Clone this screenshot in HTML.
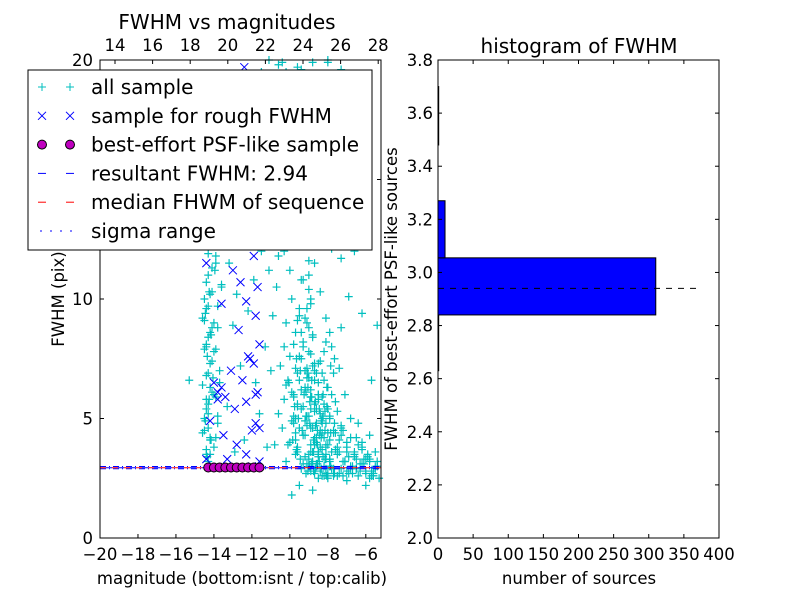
<!DOCTYPE html>
<html><head><meta charset="utf-8"><style>
body{margin:0;background:#fff}
svg text{font-family:"DejaVu Sans","Liberation Sans",sans-serif;fill:#000}
</style></head><body>
<svg id="c" width="800" height="600" viewBox="0 0 800 600" xmlns="http://www.w3.org/2000/svg"></svg>
<script>
const allMag=[-14.4,-14.2,-14.5,-14.3,-14.1,-14.4,-14.2,-14.5,-14.3,-14.0,-14.4,-14.1,-14.3,-13.9,-14.2,-13.8,-13.9,-13.7,-14.0,-13.8,-14.6,-14.6,-14.0,-13.6,-14.5,-13.7,-14.1,-14.4,-14.3,-14.6,
-13.2,-12.8,-12.5,-13.0,-12.2,-12.6,-11.9,-11.5,-11.3,-11.8,-13.3,-12.4,-11.6,-11.2,-13.4,-12.1,-11.4,-11.1,-12.9,-11.0,-11.7,-10.9,-15.3,-11.5,-12.4,-13.0,
-10.2,-10.0,-9.8,-9.6,-9.4,-9.2,-9.0,-8.8,-9.5,-9.9,-10.3,-10.1,-9.7,-9.3,-9.1,-8.9,-8.7,-8.5,-8.3,-8.1,-7.9,-7.7,-7.5,-8.6,-8.4,-9.0,-8.8,-8.6,-8.2,-8.0,-7.8,-7.6,-7.4,-7.2,-7.0,-6.8,-6.6,-6.4,-6.2,-6.0,-5.8,-5.6,-5.4,-9.6,-9.4,-9.2,-10.4,-10.6,-10.8,-9.8,-9.5,-9.3,-9.1,-8.9,-9.7,-10.0,-9.4,-9.8,-9.2,-8.7,-8.4,-8.1,-7.8,-7.4,-7.1,-6.8,-6.5,-6.2,-5.8,-5.5,-7.3,-6.9,-8.3,-9.6,-8.9,-10.1,-7.6,-8.5,-9.0,-7.2,-6.6,-6.2,-5.7,-5.4,-10.5,-10.7,-8.0,-7.0,-6.0,-9.5,-9.9,-8.8,-5.3,-8.2,-8.7,-9.1,-8.5,-7.9,-7.3,-7.7,-8.9,-9.7,-10.3,-10.5,-10.2,-9.0,-8.0,-7.0,-6.3,-10.9,-9.4,-8.0,-6.9,-10.5,
-9.0,-8.7,-8.4,-8.2,-8.9,-8.6,-8.3,-8.8,-8.5,-9.2,-7.9,-8.1,-7.5,-7.0,-6.5,-6.0,-5.6,-9.3,-8.0,-7.7,
-8.6,-8.5,-8.4,-8.7,-8.8,-8.3,-8.6,-8.5,-8.9,-8.2,-8.7,-8.4,-8.6,-8.3,-8.8,-8.5,-8.6,-8.4,-8.7,-8.5,
-9.1,-9.0,-8.9,-9.2,-9.1,-9.0,-9.3,-8.9,-9.2,-9.0,-9.1,-9.4,-9.3,-8.8,-9.0,-9.2,-9.1,-8.9,-9.0,-9.3,
-8.0,-7.9,-8.1,-7.8,-8.0,-8.2,-7.7,-8.1,-7.9,-8.0,-7.6,-7.8,-8.2,-7.7,-7.9,-8.1,-7.5,-7.4,-7.6,-7.3,
-7.2,-7.0,-6.8,-7.1,-6.9,-6.7,-6.5,-6.3,-6.1,-5.9,-5.7,-5.5,-5.4,-6.6,-6.4,-7.3,-6.2,-5.8,-6.0,-5.6,
-9.6,-9.7,-9.5,-9.8,-9.6,-9.9,-9.5,-9.7,-10.0,-9.8,-9.4,-9.6,-9.5,-10.1,-9.7,-9.9,-9.4,-9.8,-10.2,-9.6,
-14.3,-14.4,-14.2,-14.5,-14.3,-14.4,-14.2,-14.3,-14.1,-14.4,-14.2,-14.5,-14.3,-14.2,-14.4,-14.1,-14.3,-14.0,-14.2,-14.4,
-13.9,-13.8,-14.0,-13.7,-13.9,-14.1,-13.8,-13.6,-13.9,-14.0,
-10.6,-10.3,-10.0,-9.7,-9.3,-9.0,-8.6,-8.2,-7.8,-7.3,-10.8,-10.4,-10.1,-9.5,-9.1,-8.7,-8.3,-7.9,-7.4,-7.0,
-10.9,-10.6,-10.2,-9.8,-9.4,-9.0,-8.6,-8.1,-7.7,-7.2,-11.1,-10.4,-9.6,-8.8,-8.0,-7.3,-6.6,-9.9,-9.2,-8.4,
-8.75,-8.55,-8.35,-8.15,-8.95,-9.15,-8.45,-8.65,-8.25,-8.05,-8.85,-9.05,-7.85,-7.65,-8.5,-8.3,-8.7,-8.9,-8.1,-7.9,
-8.75,-8.55,-8.35,-8.15,-8.95,-9.15,-8.45,-8.65,-8.25,-8.05,-8.85,-9.05,-7.85,-7.65,-8.5,-8.3,-8.7,-8.9,-8.1,-7.9,
-8.75,-8.55,-8.35,-8.15,-8.95,-9.15,-8.45,-8.65,-8.25,-8.05,-8.85,-9.05,-7.85,-7.65,-8.5,-8.3,-8.7,-8.9,-8.1,-7.9,
-7.5,-7.3,-7.1,-6.9,-6.7,-6.5,-6.3,-6.1,-5.9,-5.7,-5.5,-7.4,-7.0,-6.6,-6.2,-5.8,-5.4,-7.2,-6.8,-6.4,
-9.45,-9.65,-9.85,-9.35,-9.55,-9.75,-9.25,-10.05,-9.45,-9.65,-14.35,-14.15,-14.45,-14.25,-14.05,-14.35,-14.15,-14.45,-14.25,-13.95];
const allFw=[3.5,4.2,5.0,5.6,6.1,6.8,7.3,7.9,8.4,9.0,9.6,10.3,11.0,11.8,12.5,4.8,5.9,6.5,7.8,8.8,9.2,4.4,3.8,10.5,10.0,12.3,13.0,8.1,4.6,6.4,
11.5,10.2,12.8,8.9,9.5,7.2,10.8,12.0,8.0,6.5,5.5,4.1,5.2,3.8,14.5,15.5,13.8,11.2,3.6,7.0,16.8,9.3,6.6,19.5,18.5,17.0,
3.2,4.0,4.8,5.5,6.2,7.0,7.8,8.5,9.3,10.0,8.0,6.6,3.5,4.3,5.1,5.9,6.6,7.3,4.8,3.9,3.3,4.4,5.3,3.1,2.8,3.0,3.6,4.2,5.6,6.3,2.9,3.7,2.7,3.2,4.0,2.9,3.4,2.6,3.1,2.8,3.3,2.7,3.0,3.8,2.9,3.4,4.6,5.2,3.9,6.0,7.6,8.2,9.0,9.8,8.6,11.2,10.8,12.3,12.9,11.5,10.3,9.2,8.0,7.1,6.0,5.0,4.2,3.8,4.3,3.6,8.8,10.1,13.8,14.5,15.6,16.4,15.0,17.5,18.7,19.2,12.0,9.4,6.6,8.9,13.0,10.5,2.5,2.4,2.2,2.2,1.8,2.0,2.5,7.8,5.3,6.7,6.0,5.0,4.6,6.9,4.6,5.0,5.8,7.2,9.0,11.0,12.5,14.0,16.5,17.8,19.6,19.9,19.4,19.0,
3.3,3.9,4.5,3.0,5.4,6.9,5.9,7.2,3.6,4.9,4.1,2.7,3.5,3.6,2.9,3.3,2.6,3.1,4.4,2.6,
3.0,3.4,3.8,4.2,4.6,5.0,5.4,5.8,6.2,6.6,7.0,7.4,4.0,4.4,3.2,3.6,4.8,5.2,5.6,6.0,
3.1,3.5,3.9,4.3,4.7,5.1,5.5,5.9,6.3,6.7,7.1,7.5,8.0,8.4,8.8,9.2,9.6,10.0,10.4,10.8,
2.7,3.0,3.3,3.6,3.9,4.2,4.5,4.8,5.1,5.4,5.7,6.0,2.6,2.9,3.2,3.5,3.8,4.1,4.4,4.7,
2.6,2.8,3.0,3.2,3.4,2.7,2.9,3.1,3.3,3.5,2.8,3.0,3.2,3.6,3.9,4.3,4.0,2.5,2.7,2.6,
3.6,4.1,4.6,5.1,5.6,6.1,6.6,7.1,7.6,8.1,8.6,9.1,9.6,3.9,4.4,4.9,5.4,5.9,6.4,6.9,
3.2,3.7,4.1,4.5,5.2,5.8,6.3,6.9,7.4,8.0,8.6,9.1,9.7,10.2,10.7,11.3,11.9,12.4,3.5,5.4,
4.2,5.1,6.0,7.0,7.9,8.8,9.7,10.6,11.5,12.2,
11.8,12.0,12.6,13.2,12.4,11.6,12.8,13.4,12.1,11.7,13.6,14.2,14.8,15.3,15.8,16.2,16.9,17.4,18.1,18.8,
19.2,19.8,19.5,19.1,18.6,18.2,17.8,17.2,16.6,16.0,20.0,19.9,19.7,19.9,20.0,19.6,19.3,15.0,14.0,13.0,
2.8,3.1,2.9,3.3,3.0,2.7,3.2,2.9,3.4,2.6,3.1,2.8,3.0,2.7,3.5,3.7,3.9,3.6,3.8,3.3,
4.1,4.5,4.9,5.3,5.7,6.1,4.3,4.7,5.1,5.5,5.9,6.3,4.4,4.8,6.5,6.9,7.3,7.7,8.2,8.6,
3.6,3.9,4.2,4.5,4.8,5.1,5.4,5.7,6.0,6.3,6.6,6.9,7.2,7.5,2.5,2.6,2.7,2.8,2.9,3.0,
2.6,2.9,3.2,2.7,3.0,3.3,2.8,3.1,3.4,2.6,2.9,3.6,3.8,3.5,3.7,3.2,3.0,4.5,4.2,4.8,
3.3,3.7,4.1,4.5,5.0,5.5,6.0,6.5,7.0,7.5,3.4,4.1,4.9,5.8,6.7,7.6,8.5,9.4,10.3,11.2];
const roughMag=[-14.4,-13.7,-13.0,-12.6,-11.9,-11.7,-12.3,-11.8,-13.6,-12.7,-11.6,-12.2,-11.9,-13.1,-12.5,-11.7,-13.8,-14.0,-13.4,-12.9,-12.3,-11.8,-12.0,-13.5,-12.8,-12.3,-14.2,-13.3,-12.0,-11.6,-14.4,-11.7,-12.9,-11.8,-13.2,-11.9,-12.6,-11.6,-13.0,-12.4,-11.6,-11.8,-12.1,-13.8,-13.6];
const roughFw=[11.5,12.3,11.2,10.7,11.8,12.9,9.9,9.3,9.8,8.7,8.1,7.6,7.3,7.0,6.6,6.1,6.1,6.5,5.9,5.4,5.7,4.8,4.5,4.3,3.9,3.5,4.9,3.3,3.0,3.2,3.3,10.5,13.5,14.2,15.1,16.0,17.2,18.3,18.9,19.7,4.6,6.0,7.5,5.8,6.3];
const psfMag=[-14.3,-14.0,-13.7,-13.4,-13.1,-12.8,-12.5,-12.2,-11.9,-11.6];
const psfFw=[2.95,2.95,2.95,2.95,2.95,2.95,2.95,2.95,2.95,2.95];
const resultFwhm=2.94, medianFwhm=2.94, sigmaLo=2.90, sigmaHi=2.99;
const binEdges=[2.63,2.84,3.055,3.27,3.48,3.70];
const binCounts=[1,310,10,0,1];
const xTicksB=[-20,-18,-16,-14,-12,-10,-8,-6];
const xTicksT=[14,16,18,20,22,24,26,28];
const yTicksL=[0,5,10,15,20];
const yTicksR=[2.0,2.2,2.4,2.6,2.8,3.0,3.2,3.4,3.6,3.8];
const xTicksR=[0,50,100,150,200,250,300,350,400];

const S=document.getElementById('c'),NS='http://www.w3.org/2000/svg';
function mk(t,a,p){const e=document.createElementNS(NS,t);for(const k in a)e.setAttribute(k,a[k]);(p||S).appendChild(e);return e;}
const L={x0:100,x1:381,y0:538,y1:60};
const lx=v=>L.x0+(v+20)/(-5.2+20)*(L.x1-L.x0);
const ltx=v=>115+(v-14)*18.8;
const ly=v=>L.y0-v/20*(L.y0-L.y1);
const R={x0:438,x1:719,y0:538,y1:60};
const rx=v=>R.x0+v/400*(R.x1-R.x0);
const ry=v=>R.y0-(v-2.0)/1.8*(R.y0-R.y1);
const FT=16.5;

const gA=mk('g',{});


for(let i=0;i<allMag.length;i++){const x=lx(allMag[i]),y=ly(allFw[i]);
 if(x>L.x1||y<L.y1)continue;
 const p=mk('path',{d:`M${x-4} ${y}h8M${x} ${y-4}v8`,stroke:'#00bfbf','stroke-width':1.2},gA);
 
 }
const gB=mk('g',{});


for(let i=0;i<roughMag.length;i++){const x=lx(roughMag[i]),y=ly(roughFw[i]);
 const p=mk('path',{d:`M${x-4} ${y-4}l8 8M${x-4} ${y+4}l8 -8`,stroke:'#0000ff','stroke-width':1},gB);
 
 }
mk('line',{x1:L.x0,x2:L.x1,y1:ly(sigmaLo),y2:ly(sigmaLo),stroke:'#0000ff','stroke-dasharray':'6 3 1 3'});
mk('line',{x1:L.x0,x2:L.x1,y1:ly(sigmaHi),y2:ly(sigmaHi),stroke:'#0000ff','stroke-dasharray':'6 3 1 3'});
mk('line',{x1:L.x0,x2:L.x1,y1:ly(medianFwhm),y2:ly(medianFwhm),stroke:'#ff0000','stroke-dasharray':'6 6'});
mk('line',{x1:L.x0,x2:L.x1,y1:ly(resultFwhm),y2:ly(resultFwhm),stroke:'#0000ff','stroke-dasharray':'6 6','stroke-dashoffset':6});
const gC=mk('g',{});


for(let i=0;i<psfMag.length;i++){const c=mk('circle',{cx:lx(psfMag[i]),cy:ly(psfFw[i]),r:4.5,fill:'#bf00bf',stroke:'#000'},gC);
 
 }
mk('rect',{x:L.x0,y:L.y1,width:L.x1-L.x0,height:L.y0-L.y1,fill:'none',stroke:'#000'});
for(const t of xTicksB){const x=lx(t);mk('line',{x1:x,x2:x,y1:L.y0,y2:L.y0-4,stroke:'#000'});
 const e=mk('text',{x:x,y:560,'font-size':FT,'text-anchor':'middle'});e.textContent=t<0?'\u2212'+(-t):t;}
for(const t of xTicksT){const x=ltx(t);mk('line',{x1:x,x2:x,y1:L.y1,y2:L.y1+4,stroke:'#000'});
 const e=mk('text',{x:x,y:51,'font-size':FT,'text-anchor':'middle'});e.textContent=t;}
for(const t of yTicksL){const y=ly(t);mk('line',{x1:L.x0,x2:L.x0+4,y1:y,y2:y,stroke:'#000'});mk('line',{x1:L.x1,x2:L.x1-4,y1:y,y2:y,stroke:'#000'});
 const e=mk('text',{x:93,y:y+6,'font-size':FT,'text-anchor':'end'});e.textContent=t;}
let e=mk('text',{x:227,y:29,'font-size':20,'text-anchor':'middle'});e.textContent='FWHM vs magnitudes';

e=mk('text',{x:242,y:584,'font-size':FT,'text-anchor':'middle'});e.textContent='magnitude (bottom:isnt / top:calib)';

e=mk('text',{x:0,y:0,'font-size':FT,'text-anchor':'middle',transform:'translate(64,299) rotate(-90)'});e.textContent='FWHM (pix)';


const lg=mk('g',{});


mk('rect',{x:28,y:70,width:344,height:180,fill:'#fff',stroke:'#000'},lg);
const labels=['all sample','sample for rough FWHM','best-effort PSF-like sample','resultant FWHM: 2.94','median FHWM of sequence','sigma range'];
labels.forEach((s,i)=>{const y=87+i*28.8;
 for(const x of [42,70]){
  if(i==0)mk('path',{d:`M${x-4} ${y}h8M${x} ${y-4}v8`,stroke:'#00bfbf'},lg);
  if(i==1)mk('path',{d:`M${x-4} ${y-4}l8 8M${x-4} ${y+4}l8 -8`,stroke:'#0000ff'},lg);
  if(i==2)mk('circle',{cx:x,cy:y,r:4.5,fill:'#bf00bf',stroke:'#000'},lg);}
 if(i==3){mk('line',{x1:38,x2:46,y1:y,y2:y,stroke:'#0000ff'},lg);mk('line',{x1:66,x2:74,y1:y,y2:y,stroke:'#0000ff'},lg);}
 if(i==4){mk('line',{x1:38,x2:46,y1:y,y2:y,stroke:'#ff0000'},lg);mk('line',{x1:66,x2:74,y1:y,y2:y,stroke:'#ff0000'},lg);}
 if(i==5){for(const x of [40,50,60,70])mk('line',{x1:x,x2:x+2,y1:y,y2:y,stroke:'#0000ff'},lg);}
 const t=mk('text',{x:91,y:y+7,'font-size':20},lg);t.textContent=s;
 });

const gH=mk('g',{});


for(let i=0;i<binCounts.length;i++){if(!binCounts[i])continue;const y0=ry(binEdges[i]),y1=ry(binEdges[i+1]);
 const r=mk('rect',{x:R.x0,y:y1,width:rx(binCounts[i])-R.x0,height:y0-y1,fill:'#0000ff',stroke:'#000'},gH);
 }
mk('line',{x1:rx(0),x2:rx(370),y1:ry(resultFwhm),y2:ry(resultFwhm),stroke:'#000','stroke-dasharray':'6 6'});
mk('rect',{x:R.x0,y:R.y1,width:R.x1-R.x0,height:R.y0-R.y1,fill:'none',stroke:'#000'});
for(const t of xTicksR){const x=rx(t);mk('line',{x1:x,x2:x,y1:R.y0,y2:R.y0-4,stroke:'#000'});mk('line',{x1:x,x2:x,y1:R.y1,y2:R.y1+4,stroke:'#000'});
 const e=mk('text',{x:x,y:560,'font-size':FT,'text-anchor':'middle'});e.textContent=t;}
for(const t of yTicksR){const y=ry(t);mk('line',{x1:R.x0,x2:R.x0+4,y1:y,y2:y,stroke:'#000'});mk('line',{x1:R.x1,x2:R.x1-4,y1:y,y2:y,stroke:'#000'});
 const e=mk('text',{x:433,y:y+6,'font-size':FT,'text-anchor':'end'});e.textContent=t.toFixed(1);}
e=mk('text',{x:579,y:53,'font-size':20,'text-anchor':'middle'});e.textContent='histogram of FWHM';

e=mk('text',{x:579,y:584,'font-size':FT,'text-anchor':'middle'});e.textContent='number of sources';

e=mk('text',{x:0,y:0,'font-size':FT,'text-anchor':'middle',transform:'translate(397,299) rotate(-90)'});e.textContent='FWHM of best-effort PSF-like sources';

</script>
</body></html>
